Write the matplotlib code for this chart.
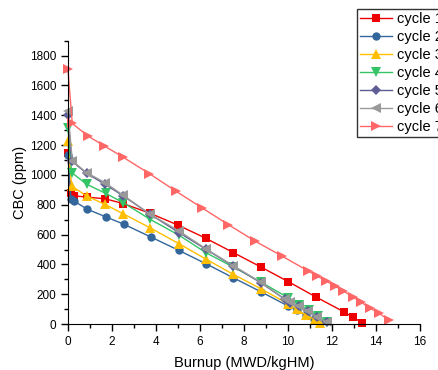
import matplotlib
matplotlib.use("Agg")
import matplotlib.pyplot as plt
from matplotlib.ticker import MultipleLocator

plt.rcParams['font.family'] = ['Liberation Sans', 'DejaVu Sans']

# burnup (MWD/kgHM) and CBC (ppm)
x1 = [0, 0.12, 0.27, 0.85, 1.7, 2.52, 3.75, 5.0, 6.26, 7.51, 8.77, 10.01, 11.27, 12.53, 12.94, 13.38]
y1 = [1150, 877, 860, 852, 840, 808, 742, 664, 576, 480, 383, 285, 182, 83, 47, 9]

x2 = [0, 0.14, 0.27, 0.88, 1.71, 2.55, 3.77, 5.03, 6.27, 7.51, 8.77, 10.01, 10.4, 10.8, 11.2, 11.45]
y2 = [1135, 841, 826, 770, 720, 669, 584, 495, 405, 311, 217, 121, 92, 62, 32, 5]

x3 = [0, 0.17, 0.85, 1.68, 2.51, 3.73, 5.05, 6.27, 7.51, 8.77, 10.01, 10.4, 10.8, 11.23, 11.45]
y3 = [1229, 926, 859, 803, 740, 646, 539, 436, 334, 237, 136, 99, 60, 31, 9]

x4 = [0, 0.17, 0.85, 1.71, 2.51, 3.73, 5.05, 6.27, 7.51, 8.77, 10.01, 10.5, 10.95, 11.35, 11.75]
y4 = [1318, 1016, 938, 877, 815, 703, 596, 479, 383, 282, 177, 128, 94, 55, 15]

x5 = [0, 0.17, 0.85, 1.68, 2.51, 3.73, 5.05, 6.27, 7.51, 8.77, 9.86, 10.09, 10.5, 10.93, 11.33, 11.76]
y5 = [1404, 1094, 1011, 938, 860, 737, 613, 502, 389, 277, 166, 143, 121, 87, 47, 13]

x6 = [0, 0.2, 0.85, 1.68, 2.51, 3.73, 5.05, 6.27, 7.51, 8.77, 9.86, 10.09, 10.5, 10.93, 11.33, 11.76]
y6 = [1430, 1094, 1015, 949, 864, 737, 624, 505, 392, 280, 168, 145, 122, 88, 48, 14]

x7 = [0, 0.2, 0.9, 1.65, 2.49, 3.7, 4.91, 6.1, 7.29, 8.5, 9.73, 10.92, 11.33, 11.74, 12.13, 12.52, 12.94, 13.31, 13.72, 14.14, 14.6]
y7 = [1710, 1345, 1262, 1195, 1121, 1009, 891, 779, 667, 557, 456, 356, 322, 289, 255, 222, 184, 148, 109, 72, 25]

labels = ['cycle 1', 'cycle 2', 'cycle 3', 'cycle 4', 'cycle 5', 'cycle 6', 'cycle 7']
colors = ['#EE0000', '#33669A', '#FFBE00', '#33C466', '#5D5D96', '#999999', '#FF6666']
markers = ['s', 'o', '^', 'v', 'D', '<', '>']
msizes = [5.5, 6, 6.5, 6.5, 5, 6.5, 6.5]

fig = plt.figure(figsize=(4.38, 3.70), dpi=100)
ax = fig.add_axes([0.155, 0.124, 0.804, 0.766])

series = [(x1, y1), (x2, y2), (x3, y3), (x4, y4), (x5, y5), (x6, y6), (x7, y7)]
for (xs, ys), lab, c, m, ms in zip(series, labels, colors, markers, msizes):
    ax.plot(xs, ys, color=c, marker=m, markersize=ms, lw=1, label=lab,
            markeredgewidth=0, clip_on=False)

ax.set_xlim(0, 16)
ax.set_ylim(0, 1900)
ax.xaxis.set_major_locator(MultipleLocator(2))
ax.xaxis.set_minor_locator(MultipleLocator(1))
ax.yaxis.set_minor_locator(MultipleLocator(100))
ax.set_yticks(range(0, 1801, 200))
ax.tick_params(which='major', direction='out', length=5, width=1, labelsize=8.5)
ax.tick_params(which='minor', direction='out', length=3, width=1)
ax.spines['top'].set_visible(False)
ax.spines['right'].set_visible(False)
ax.set_xlabel('Burnup (MWD/kgHM)', fontsize=10.5, labelpad=6)
ax.set_ylabel('CBC (ppm)', fontsize=10.5, labelpad=2)

leg = ax.legend(loc='upper left', bbox_to_anchor=(0.815, 0.976), bbox_transform=fig.transFigure,
                fontsize=10.5, frameon=True, fancybox=False, edgecolor='black',
                handlelength=2.2, handletextpad=0.35, labelspacing=0.28,
                borderpad=0.2, borderaxespad=0)
leg.get_frame().set_linewidth(1)

fig.savefig('out.png', dpi=100)
